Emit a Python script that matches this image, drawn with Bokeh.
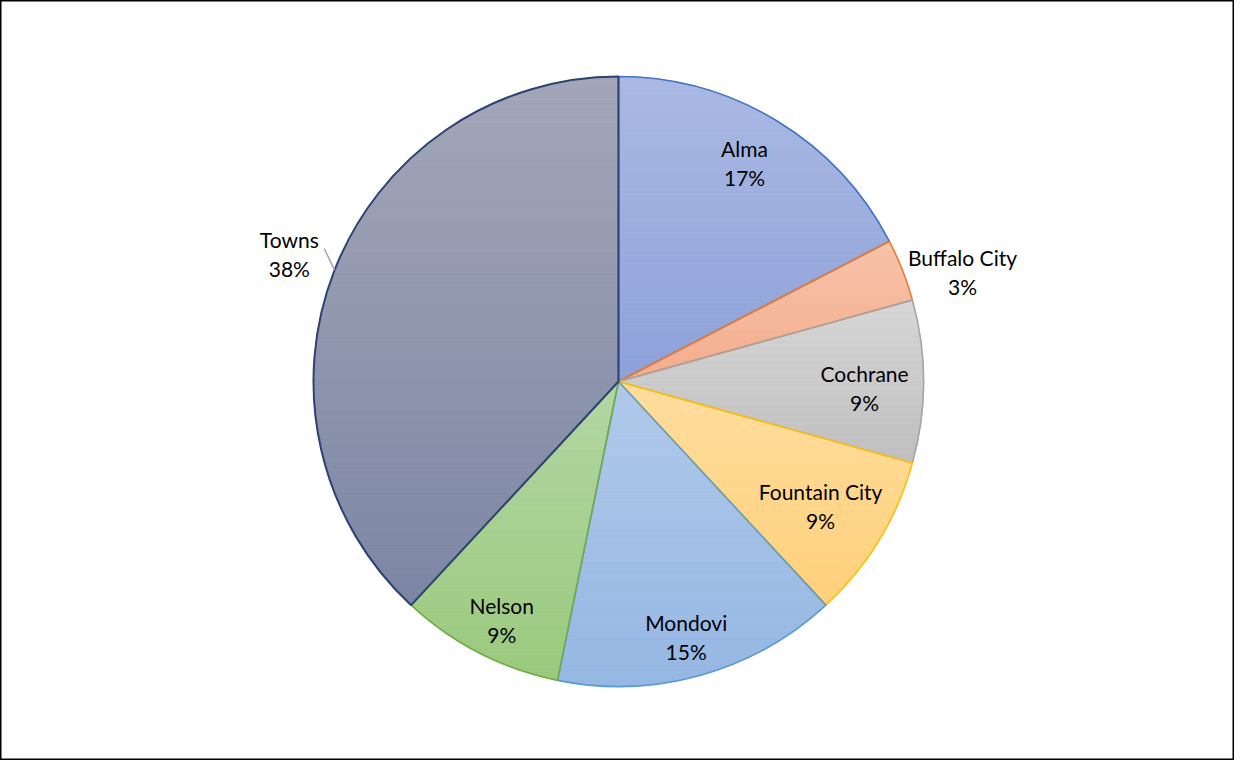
import math
from bokeh.plotting import figure
from bokeh.models import Range1d, ColumnDataSource
from bokeh.core.properties import value
from bokeh.embed import file_html
from bokeh.resources import INLINE

# ---- data ----
categories = ["Alma", "Buffalo City", "Cochrane", "Fountain City", "Mondovi", "Nelson", "Towns"]
shares = [17.4, 3.3, 8.6, 8.8, 15.1, 8.7, 38.1]

# ---- styles ----
top_colors = ["#AAB9E2", "#F7C2A9", "#D6D6D6", "#FFDD9E", "#B0C9E9", "#B4D6A3", "#A3A6B8"]
bottom_colors = ["#8DA1DA", "#F3AD8D", "#BFBFBF", "#FFD07A", "#94B7E3", "#9AC97D", "#7C86A4"]
line_colors = ["#4472C4", "#ED7D31", "#A5A5A5", "#FFC000", "#5B9BD5", "#70AD47", "#2B4272"]
label_r = [0.826, 1.184, 0.807, 0.779, 0.865, 0.871, 1.157]
label_shift = [-1.3, 3.7, 1.6, 0.4, 0.8, -1.1, -0.3]  # degrees, clockwise
FONT = "Lato"
FS = "21px"

W, H = 1234, 760
cx, cy, R = 618, 379, 305

total = sum(shares)
starts, ends, mids = [], [], []
acc = 0.0
for s in shares:
    f0 = acc / total
    acc += s
    f1 = acc / total
    starts.append(math.pi / 2 - f0 * 2 * math.pi)
    ends.append(math.pi / 2 - f1 * 2 * math.pi)
    mids.append(math.pi / 2 - (f0 + f1) / 2 * 2 * math.pi)


def hex2rgb(h):
    h = h.lstrip("#")
    return [int(h[i:i + 2], 16) for i in (0, 2, 4)]


def mix(c_top, c_bot, t):  # t=1 top, t=0 bottom
    a, b = hex2rgb(c_top), hex2rgb(c_bot)
    return "#%02x%02x%02x" % tuple(int(round(bb + (aa - bb) * t)) for aa, bb in zip(a, b))


def clip(poly, y0, y1):
    def clip_half(pts, keep, inter):
        out = []
        n = len(pts)
        for i in range(n):
            cur, prev = pts[i], pts[i - 1]
            if keep(cur):
                if not keep(prev):
                    out.append(inter(prev, cur))
                out.append(cur)
            elif keep(prev):
                out.append(inter(prev, cur))
        return out

    def inter_y(yc):
        def f(p, q):
            t = (yc - p[1]) / (q[1] - p[1])
            return (p[0] + t * (q[0] - p[0]), yc)
        return f

    pts = clip_half(poly, lambda p: p[1] >= y0, inter_y(y0))
    if not pts:
        return pts
    return clip_half(pts, lambda p: p[1] <= y1, inter_y(y1))


p = figure(width=W, height=H, output_backend="svg", toolbar_location=None,
           x_range=Range1d(0, W), y_range=Range1d(0, H), min_border=0)
p.axis.visible = False
p.grid.visible = False
p.outline_line_color = "black"
p.outline_line_width = 2
p.background_fill_color = "white"

# gradient-filled slices built from horizontal bands
xs, ys, cols = [], [], []
NB = 70
for a0, a1, ct, cb in zip(starts, ends, top_colors, bottom_colors):
    n = max(8, int(abs(a0 - a1) / (2 * math.pi) * 360))
    poly = [(cx, cy)] + [(cx + R * math.cos(a0 + (a1 - a0) * k / n),
                          cy + R * math.sin(a0 + (a1 - a0) * k / n)) for k in range(n + 1)]
    ymin = min(q[1] for q in poly)
    ymax = max(q[1] for q in poly)
    for b in range(NB):
        y0 = ymin + (ymax - ymin) * b / NB
        y1 = ymin + (ymax - ymin) * (b + 1) / NB
        part = clip(poly, y0, y1)
        if len(part) < 3:
            continue
        xs.append([q[0] for q in part])
        ys.append([q[1] for q in part])
        cols.append(mix(ct, cb, (b + 0.5) / NB))

p.patches(xs="xs", ys="ys", fill_color="c", line_color="c", line_width=0.8,
          source=ColumnDataSource(dict(xs=xs, ys=ys, c=cols)))

src = ColumnDataSource(dict(start=starts, end=ends, line=line_colors,
                            lw=[1.6, 1.6, 1.6, 1.6, 1.6, 1.6, 2.0]))
p.wedge(x=cx, y=cy, radius=R, start_angle="start", end_angle="end", direction="clock",
        fill_alpha=0, line_color="line", line_width="lw", source=src)

lx, ly, names, pcts = [], [], [], []
for cat, s, m, rf, sh in zip(categories, shares, mids, label_r, label_shift):
    a = m - math.radians(sh)
    lx.append(cx + rf * R * math.cos(a))
    ly.append(cy + rf * R * math.sin(a))
    names.append(cat)
    pcts.append(f"{round(s / total * 100)}%")

lsrc = ColumnDataSource(dict(x=lx, yn=[y + 14.5 for y in ly], yp=[y - 14.5 for y in ly],
                             name=names, pct=pcts))
for col, ycol in (("name", "yn"), ("pct", "yp")):
    p.text(x="x", y=ycol, text=col, source=lsrc, text_align="center", text_baseline="middle",
           text_font=value(FONT), text_font_size=FS, text_color="black")

# leader line for Towns
i = categories.index("Towns")
m = mids[i]
p.line([cx + R * math.cos(m), cx + 1.059 * R * math.cos(m - math.radians(2.9))],
       [cy + R * math.sin(m), cy + 1.059 * R * math.sin(m - math.radians(2.9))],
       line_color="#A6A6A6", line_width=1.5)

open("out.html", "w").write(file_html(p, INLINE))
